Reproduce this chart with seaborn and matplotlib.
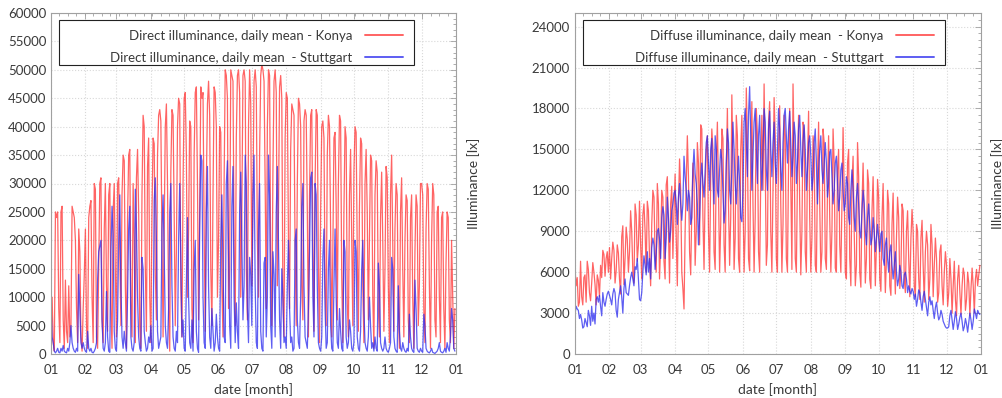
import numpy as np
import pandas as pd
import matplotlib
matplotlib.use("Agg")
import matplotlib.pyplot as plt
from matplotlib.patches import Rectangle
from matplotlib.ticker import MultipleLocator, AutoMinorLocator, FixedLocator
import seaborn as sns

# ---- data (daily means, in klx; converted to lx below) ----
month_labels = ["01", "02", "03", "04", "05", "06", "07", "08", "09", "10", "11", "12", "01"]
days_in_month = [31, 28, 31, 30, 31, 30, 31, 31, 30, 31, 30, 31]

konya_direct_klx = [
    3, 10, 2, 0.5, 25, 24, 25, 8, 2, 25, 26, 6, 1, 13, 4, 2, 12, 3, 5, 26, 25, 24, 20, 8, 2, 22, 18, 3, 0.5, 8, 14,
    22, 5, 1, 24, 26, 27, 10, 2, 30, 29, 3, 1, 15, 30, 31, 6, 2, 22, 30, 12, 4, 28, 30, 8, 1, 25, 30, 14,
    3, 30, 31, 18, 5, 28, 35, 34, 12, 1, 24, 35, 36, 9, 3, 30, 20, 2, 31, 36, 25, 5, 1, 28, 42, 40, 15, 4, 33, 38, 10,
    2, 25, 38, 37, 14, 6, 35, 42, 43, 41, 20, 3, 22, 40, 44, 30, 8, 0.5, 32, 43, 42, 25, 5, 18, 40, 45, 44, 12, 3, 30,
    45, 46, 35, 10, 22, 41, 40, 8, 2, 35, 46, 47, 30, 6, 25, 47, 45, 46, 22, 4, 30, 44, 48, 42, 15, 5, 28, 47, 46, 40, 10,
    20, 40, 39, 12, 3, 30, 50, 49, 45, 8, 15, 50, 49, 48, 20, 5, 38, 49, 50, 46, 10, 25, 49, 50, 48, 15, 6, 40, 50, 44,
    12, 28, 48, 50, 47, 20, 10, 35, 49, 51, 50, 48, 30, 8, 40, 50, 49, 15, 5, 32, 48, 50, 46, 12, 25, 47, 49, 45, 10, 3, 38,
    46, 45, 20, 8, 36, 44, 43, 42, 18, 5, 30, 45, 44, 40, 12, 6, 41, 43, 42, 25, 3, 28, 42, 43, 20, 4, 30, 43, 42, 15, 2,
    25, 40, 41, 38, 12, 5, 35, 42, 40, 22, 3, 18, 38, 39, 26, 6, 30, 42, 41, 14, 2, 25, 40, 38, 9, 3, 28, 36, 20, 5,
    32, 40, 39, 18, 4, 26, 38, 37, 12, 2, 30, 36, 25, 6, 20, 35, 34, 10, 1, 28, 34, 32, 8, 3, 24, 32, 20, 4, 15, 33, 31,
    12, 2, 28, 35, 20, 4, 22, 30, 28, 8, 1, 25, 31, 15, 3, 20, 28, 27, 6, 2, 24, 28, 10, 1, 18, 28, 26, 5, 12, 30,
    30, 28, 8, 2, 22, 30, 29, 12, 1, 20, 30, 28, 6, 3, 25, 26, 10, 2, 24, 25, 8, 1, 16, 25, 24, 6, 2, 20, 10, 1, 8,
]

stuttgart_direct_klx = [
    9, 3, 2, 0.5, 0.2, 0.5, 1, 0.3, 0.2, 1, 0.5, 1.5, 0.5, 0.3, 0.2, 1, 0.5, 2, 5, 2, 1, 0.5, 0.3, 1, 0.5, 14, 8, 2, 1, 2, 1,
    0.5, 0.3, 4, 1, 0.5, 1, 0.3, 0.2, 0.5, 1, 2, 13, 18, 19, 20, 6, 1, 0.5, 2, 11, 3, 0.5, 0.3, 18, 26, 21, 4, 1,
    0.5, 6, 20, 28, 12, 3, 1, 4, 2, 0.5, 10, 22, 26, 3, 1, 0.5, 2, 29, 22, 10, 3, 1, 0.5, 17, 15, 4, 2, 0.5, 1, 3, 2,
    5, 0.5, 1, 27, 31, 20, 4, 1, 2, 3, 22, 28, 18, 5, 2, 1, 8, 25, 30, 12, 3, 1, 0.5, 4, 2, 20, 30, 16, 3, 6,
    1, 0.5, 12, 24, 10, 2, 1, 6, 0.5, 15, 20, 4, 1, 0.3, 22, 35, 34, 10, 2, 1, 25, 33, 12, 3, 1, 8, 4, 0.5, 2, 7, 3,
    1, 0.5, 20, 28, 15, 3, 2, 30, 34, 18, 5, 1, 26, 33, 10, 2, 9, 4, 1, 25, 32, 20, 6, 12, 35, 30, 8, 2, 17, 14,
    5, 28, 35, 12, 2, 1, 22, 30, 4, 1, 0.5, 16, 17, 3, 10, 35, 28, 5, 1, 18, 14, 3, 25, 33, 20, 6, 1, 15, 10, 2, 3,
    1, 12, 20, 8, 2, 3, 0.5, 1, 20, 22, 6, 2, 1, 10, 26, 30, 12, 3, 2, 1, 8, 18, 31, 32, 10, 3, 30, 28, 12, 2, 1,
    0.5, 3, 17, 22, 8, 1, 2, 15, 20, 5, 1, 0.5, 12, 22, 10, 2, 1, 8, 4, 1, 0.5, 20, 18, 3, 1, 2, 6, 4, 1, 0.5,
    2, 20, 18, 3, 1, 0.5, 4, 15, 20, 8, 2, 1, 0.5, 3, 10, 5, 1, 2, 0.5, 3, 1, 0.5, 16, 12, 2, 1, 0.5, 1, 3, 1, 0.5,
    0.3, 1, 2, 17, 15, 3, 1, 0.5, 0.3, 12, 4, 1, 0.5, 2, 1, 0.5, 0.3, 1, 0.5, 7, 3, 1, 0.5, 0.3, 13, 8, 1, 0.5, 0.3, 1,
    0.5, 0.3, 7, 5, 1, 0.5, 0.3, 0.2, 0.5, 1, 0.3, 0.2, 0.1, 0.3, 0.5, 1, 2, 0.5, 0.3, 0.2, 0.5, 1, 0.3, 2, 1, 0.5, 3, 8, 6, 1, 0.5,
]

konya_diffuse_klx = [
    6.3, 5.0, 5.6, 3.5, 3.8, 6.8, 4.2, 3.6, 5.6, 5.8, 3.8, 6.8, 6.2, 4.5, 3.9, 5.2, 6.7, 6.0, 5.1, 3.6, 5.8, 5.4, 4.2, 6.5, 5.6, 7.6, 7.3, 5.7, 7.0, 7.5, 6.0,
    7.8, 5.5, 7.0, 8.2, 7.6, 5.2, 6.1, 8.0, 7.4, 5.5, 4.4, 8.6, 9.4, 5.1, 7.0, 9.3, 8.4, 6.0, 7.5, 10.5, 9.0, 6.0, 5.2, 11.0, 10.2, 6.8, 8.0, 11.2,
    8.0, 5.5, 10.2, 11.0, 9.0, 6.0, 11.2, 10.5, 7.0, 5.0, 9.5, 12.0, 11.5, 7.2, 6.0, 12.5, 11.0, 5.5, 8.0, 12.0, 11.5, 6.8, 5.5, 12.4, 13.0, 9.0, 5.2, 11.0, 12.3, 7.0, 10.5,
    13.2, 8.5, 5.0, 11.0, 14.3, 12.0, 6.0, 4.8, 3.3, 9.0, 12.5, 16.0, 13.0, 7.5, 5.8, 10.5, 14.0, 12.8, 6.5, 9.0, 15.5, 14.0, 8.0, 16.8, 16.5, 10.0, 6.2, 12.0, 15.0, 16.0,
    9.0, 6.0, 13.0, 16.5, 15.0, 7.5, 6.2, 14.0, 17.0, 12.0, 6.0, 9.5, 16.5, 15.8, 8.0, 6.0, 13.5, 18.0, 11.0, 6.5, 10.0, 19.0, 14.0, 6.2, 8.5, 17.5, 16.0, 7.0, 6.0, 15.0, 17.5,
    12.0, 6.0, 9.0, 19.5, 15.5, 7.0, 6.1, 14.0, 18.5, 11.0, 6.0, 10.0, 18.0, 16.0, 7.5, 6.0, 13.0, 17.5, 12.0, 19.8, 14.0, 6.5, 8.0, 17.0, 18.5, 9.0, 6.0, 12.0, 18.8, 16.0,
    7.0, 6.0, 15.0, 18.2, 11.0, 6.0, 9.5, 17.5, 16.0, 7.0, 6.0, 14.0, 18.0, 12.5, 6.2, 19.8, 15.0, 7.0, 6.0, 13.0, 17.5, 11.0, 5.8, 9.0, 17.0, 16.5, 7.5, 6.0, 14.0, 17.8, 10.0,
    6.0, 8.5, 16.0, 15.0, 6.5, 6.0, 13.0, 17.0, 11.0, 6.0, 7.5, 16.5, 15.5, 7.0, 6.2, 12.0, 16.0, 10.0, 6.0, 9.0, 16.5, 14.0, 6.3, 6.0, 13.5, 15.0, 8.0, 6.0, 11.0, 16.6, 12.0,
    6.0, 5.5, 14.0, 15.0, 7.0, 5.0, 12.5, 14.5, 9.0, 5.0, 6.5, 15.5, 13.0, 6.0, 4.9, 11.0, 14.0, 10.0, 5.2, 7.0, 13.5, 12.5, 5.5, 4.8, 10.5, 13.0, 9.0, 5.0, 8.0, 12.8,
    11.5, 5.5, 4.6, 10.0, 12.5, 8.0, 4.5, 7.0, 12.0, 11.0, 5.0, 4.3, 9.5, 11.8, 7.0, 4.4, 8.5, 11.5, 10.0, 4.8, 6.0, 11.0, 10.5, 5.5, 4.5, 9.0, 10.5, 7.0, 4.2, 8.5, 10.6,
    9.0, 5.0, 4.2, 9.5, 9.0, 5.5, 4.0, 8.5, 9.8, 6.5, 3.8, 7.5, 9.0, 8.0, 4.0, 5.5, 9.5, 8.0, 4.2, 6.5, 8.5, 7.0, 3.8, 4.5, 7.5, 8.0, 5.0, 3.6, 6.0, 7.5,
    6.5, 3.5, 4.5, 7.0, 5.5, 3.0, 5.0, 6.8, 4.0, 2.8, 5.5, 6.5, 4.5, 2.9, 5.0, 6.3, 5.8, 3.2, 4.0, 6.0, 5.2, 2.8, 4.8, 6.3, 5.0, 3.0, 5.5, 6.2, 5.0, 5.8, 6.5,
]

stuttgart_diffuse_klx = [
    2.9, 3.5, 3.3, 3.2, 2.6, 2.9, 2.5, 1.9, 2.0, 2.6, 2.3, 2.0, 3.2, 2.8, 2.1, 3.5, 2.4, 3.0, 2.2, 4.0, 4.2, 3.8, 4.3, 3.5, 2.8, 4.5, 3.8, 3.5, 4.0, 4.4, 4.6,
    4.3, 4.0, 3.6, 4.4, 4.8, 4.5, 3.2, 2.7, 4.0, 4.5, 5.0, 4.2, 3.0, 4.8, 5.5, 4.5, 4.4, 4.3, 5.0, 5.6, 6.0, 5.5, 5.0, 6.4, 6.2, 7.0, 5.5, 4.0,
    3.9, 4.5, 6.0, 7.2, 6.5, 5.8, 7.5, 6.0, 7.0, 5.5, 7.8, 8.5, 8.0, 6.2, 7.4, 9.0, 9.2, 8.4, 7.0, 10.0, 10.8, 10.2, 7.0, 8.5, 11.5, 10.0, 8.2, 9.0, 10.5, 11.0, 11.8,
    12.0, 11.0, 9.5, 11.5, 12.5, 11.0, 9.8, 11.0, 14.5, 13.0, 12.0, 10.5, 12.0, 11.5, 9.5, 10.0, 13.5, 15.0, 13.2, 12.5, 11.0, 8.0, 10.0, 12.8, 14.0, 12.5, 11.5, 13.5, 15.5, 16.0,
    14.0, 12.0, 15.0, 15.8, 13.0, 11.0, 16.0, 15.0, 12.0, 11.5, 13.5, 15.0, 14.2, 12.0, 9.6, 10.5, 14.0, 16.5, 15.5, 12.0, 11.0, 13.5, 17.0, 15.0, 12.5, 11.0, 13.0, 14.5, 12.5, 10.0, 9.7,
    12.0, 17.0, 18.0, 15.5, 13.0, 17.5, 19.6, 16.0, 12.0, 14.5, 17.0, 18.0, 15.0, 12.5, 16.0, 17.5, 14.0, 12.0, 15.0, 18.0, 17.0, 13.5, 12.0, 16.5, 17.8, 15.0, 13.0, 15.5, 17.0, 14.0,
    12.5, 15.0, 18.0, 16.5, 13.5, 12.0, 15.5, 17.5, 18.0, 16.0, 14.0, 16.5, 17.8, 15.5, 13.0, 14.5, 17.0, 16.0, 12.5, 14.0, 16.5, 17.5, 15.0, 13.0, 15.5, 16.8, 15.0, 12.0, 13.5, 15.5, 16.0,
    14.5, 12.0, 13.0, 15.5, 16.5, 14.0, 11.0, 13.5, 15.0, 16.0, 13.5, 12.5, 14.0, 15.5, 14.0, 11.5, 12.5, 14.8, 15.0, 13.0, 11.0, 12.0, 14.0, 14.5, 12.5, 10.5, 11.5, 13.5, 14.0, 12.0, 10.5,
    11.0, 13.0, 12.5, 10.0, 9.5, 12.0, 13.5, 12.0, 10.0, 9.0, 11.5, 12.5, 11.0, 9.0, 8.5, 10.5, 12.0, 11.0, 9.0, 8.0, 10.0, 11.0, 9.5, 8.0, 8.5, 10.0, 9.0, 7.5, 8.5, 9.5,
    8.5, 7.5, 8.8, 9.0, 7.0, 6.5, 8.0, 8.5, 7.0, 6.0, 7.5, 8.0, 6.5, 5.5, 6.5, 7.5, 6.0, 5.0, 5.5, 6.5, 6.0, 5.0, 4.8, 5.8, 6.0, 5.5, 4.5, 5.0, 4.6, 4.4, 4.8,
    4.6, 4.0, 4.4, 3.5, 4.0, 4.7, 4.5, 3.8, 3.2, 4.2, 4.6, 4.0, 3.4, 2.8, 3.8, 4.2, 3.6, 3.9, 3.2, 2.6, 3.4, 3.8, 3.0, 2.5, 2.7, 3.2, 2.9, 2.4, 2.2, 2.0,
    1.9, 1.9, 2.0, 2.8, 3.2, 2.5, 1.8, 2.4, 3.1, 2.6, 1.8, 2.2, 2.7, 3.0, 2.4, 1.7, 2.0, 2.6, 2.2, 1.6, 2.3, 3.0, 2.5, 1.8, 2.4, 3.3, 3.0, 2.6, 3.2, 3.0, 2.9,
]

direct_labels = ["Direct illuminance, daily mean - Konya", "Direct illuminance, daily mean  - Stuttgart"]
diffuse_labels = ["Diffuse illuminance, daily mean  - Konya", "Diffuse illuminance, daily mean  - Stuttgart"]

# ---- build long-form frames ----
def make_frame(a, b, labels):
    da = pd.DataFrame({"day": np.arange(len(a)), "lx": np.asarray(a, float) * 1000, "series": labels[0]})
    db = pd.DataFrame({"day": np.arange(len(b)), "lx": np.asarray(b, float) * 1000, "series": labels[1]})
    return pd.concat([da, db], ignore_index=True)

df_direct = make_frame(konya_direct_klx, stuttgart_direct_klx, direct_labels)
df_diffuse = make_frame(konya_diffuse_klx, stuttgart_diffuse_klx, diffuse_labels)

sns.set_theme(style="white")
plt.rcParams["font.family"] = ["Lato", "DejaVu Sans"]
plt.rcParams["axes.unicode_minus"] = False

W, H = 1003, 398
fig = plt.figure(figsize=(W / 100, H / 100), dpi=100)

def px_axes(x0, x1, y0, y1):
    return fig.add_axes([x0 / W, 1 - y1 / H, (x1 - x0) / W, (y1 - y0) / H])

ax1 = px_axes(51, 456, 13, 354)
ax2 = px_axes(575, 981, 13, 354)

month_starts = np.concatenate([[0], np.cumsum(days_in_month)])
frame_col = "#a0a0a0"
text_col = "#3a3a3a"
red = "#ff3030"
blue = "#2828ee"

def style_axes(ax, df, labels, ymax, ystep, leg_right, ylab_x):
    pal = {labels[0]: red, labels[1]: blue}
    sns.lineplot(data=df, x="day", y="lx", hue="series", palette=pal, ax=ax,
                 linewidth=0.9, alpha=0.75, estimator=None, legend=True)
    ax.set_xlim(0, 365)
    ax.set_ylim(0, ymax)
    ax.xaxis.set_major_locator(FixedLocator(month_starts))
    ax.set_xticklabels(month_labels)
    ax.xaxis.set_minor_locator(MultipleLocator(365 / 12 / 4))
    ax.yaxis.set_major_locator(MultipleLocator(ystep))
    ax.yaxis.set_minor_locator(AutoMinorLocator(5 if ystep == 5000 else 6))
    ax.tick_params(which="both", direction="in", top=True, right=True, colors=frame_col,
                   labelcolor=text_col, labelsize=9.5, width=0.6)
    ax.tick_params(which="major", length=4)
    ax.tick_params(which="minor", length=2)
    ax.tick_params(axis="x", pad=7)
    for s in ax.spines.values():
        s.set_color(frame_col)
        s.set_linewidth(0.8)
    ax.grid(True, which="major", color="#d8d8d8", linestyle=":", linewidth=0.8)
    ax.set_axisbelow(True)
    ax.set_xlabel("date [month]", fontsize=10, color=text_col, labelpad=5)
    ax.set_ylabel("")
    # legend: frame box + right-aligned entries (gnuplot style)
    leg_top = (354 - 20) / 341
    leg_bot = (354 - 65) / 341
    x0 = 8 / 405
    ax.add_patch(Rectangle((x0, leg_bot), leg_right - x0, leg_top - leg_bot, transform=ax.transAxes,
                           facecolor="white", edgecolor="#222222", linewidth=0.8, zorder=4))
    handles, lbls = ax.get_legend_handles_labels()
    leg = ax.legend(handles, lbls, loc="upper right", bbox_to_anchor=(leg_right - 0.008, leg_top - 0.005),
                    bbox_transform=ax.transAxes, frameon=False, markerfirst=False, fontsize=9.5,
                    handlelength=2.9, handletextpad=0.9, labelspacing=0.75, borderaxespad=0.2)
    leg.set_zorder(5)
    for t in leg.get_texts():
        t.set_color(text_col)
    for l in leg.get_lines():
        l.set_linewidth(1.4)
    fig.text(ylab_x / W, 1 - 183.5 / H, "Illuminance [lx]", rotation=90, ha="center", va="center",
             fontsize=10, color=text_col)

style_axes(ax1, df_direct, direct_labels, 60000, 5000, (414 - 51) / 405, 474)
style_axes(ax2, df_diffuse, diffuse_labels, 25000, 3000, (945 - 575) / 406, 998)
ax2.set_yticks(np.arange(0, 24001, 3000))

fig.savefig("out.png", dpi=100)
